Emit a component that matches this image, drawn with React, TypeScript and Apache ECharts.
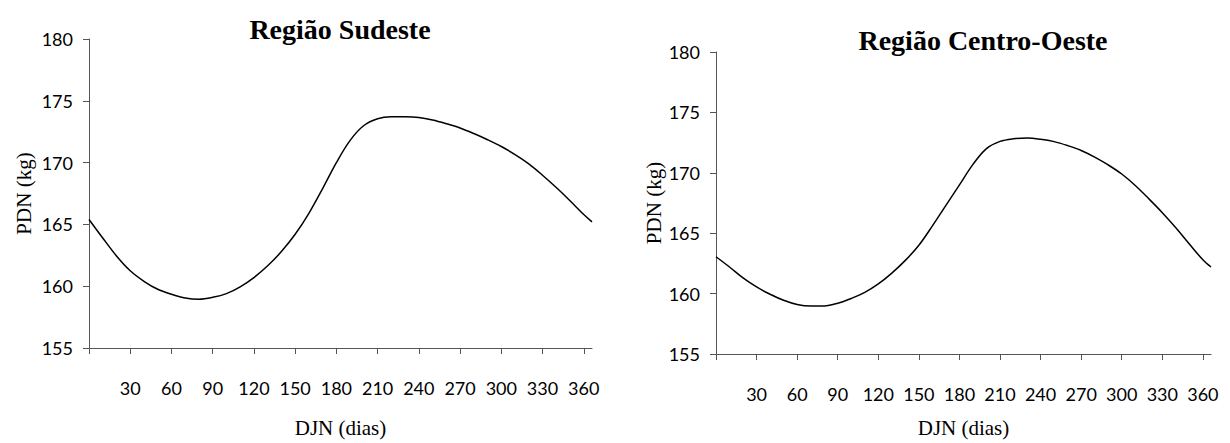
import { useEffect, useRef } from "react";
import * as echarts from "echarts";

const days = [0, 10, 20, 30, 40, 50, 60, 70, 80, 90, 100, 110, 120, 130, 140, 150, 160, 170, 180, 190, 200, 210, 220, 230, 240, 250, 260, 270, 280, 290, 300, 310, 320, 330, 340, 350, 360, 366];

const sudeste = [165.4, 163.9, 162.45, 161.25, 160.4, 159.75, 159.35, 159.05, 158.95, 159.1, 159.4, 159.95, 160.7, 161.65, 162.8, 164.2, 165.9, 167.9, 170.0, 171.8, 173.0, 173.55, 173.7, 173.7, 173.65, 173.45, 173.15, 172.8, 172.35, 171.85, 171.3, 170.65, 169.9, 168.98, 167.98, 166.92, 165.8, 165.2];

const centroOeste = [163.05, 162.2, 161.3, 160.55, 159.95, 159.45, 159.1, 158.97, 158.98, 159.2, 159.6, 160.1, 160.8, 161.7, 162.75, 164.0, 165.6, 167.3, 169.0, 170.7, 172.0, 172.6, 172.82, 172.88, 172.78, 172.58, 172.25, 171.85, 171.3, 170.65, 169.9, 168.95, 167.85, 166.7, 165.45, 164.1, 162.8, 162.2];

const titles = ["Região Sudeste", "Região Centro-Oeste"];
const xName = "DJN (dias)";
const yName = "PDN (kg)";
const xMin = 0;
const xMax = 366;
const xInterval = 30;
const yMin = 155;
const yMax = 180;
const yInterval = 5;

const serif = "'Liberation Serif', 'Times New Roman', serif";
const sans = "Lato, 'Noto Sans', sans-serif";

export default function App() {
  const ref = useRef<HTMLDivElement>(null);
  useEffect(() => {
    if (!ref.current) return;
    const chart = echarts.init(ref.current, undefined, { renderer: "svg" });
    const axisLine = { show: true, lineStyle: { color: "#555", width: 1 } };
    const xAxisBase = (gridIndex: number, gap: number) => ({
      type: "value" as const,
      gridIndex,
      min: xMin,
      max: xMax,
      interval: xInterval,
      name: xName,
      nameLocation: "middle" as const,
      nameGap: gap,
      nameTextStyle: { fontFamily: serif, fontSize: 21, color: "#000" },
      axisLine,
      axisTick: { show: true, length: 6, inside: false, lineStyle: { color: "#555" } },
      splitLine: { show: false },
      axisLabel: {
        margin: 31,
        fontFamily: sans,
        fontSize: 18,
        color: "#000",
        formatter: (v: number) => (v === 0 ? "" : String(v)),
        showMaxLabel: false,
      },
    });
    const yAxisBase = (gridIndex: number, gap: number) => ({
      type: "value" as const,
      gridIndex,
      min: yMin,
      max: yMax,
      interval: yInterval,
      name: yName,
      nameLocation: "middle" as const,
      nameGap: gap,
      nameTextStyle: { fontFamily: serif, fontSize: 21, color: "#000" },
      axisLine,
      axisTick: { show: true, length: 6, lineStyle: { color: "#555" } },
      splitLine: { show: false },
      axisLabel: { margin: 16, fontFamily: sans, fontSize: 18, color: "#000" },
    });
    chart.setOption({
      animation: false,
      backgroundColor: "#fff",
      grid: [
        { left: 89, top: 39, width: 503, height: 318 },
        { left: 716, top: 52, width: 495, height: 309 },
      ],
      xAxis: [xAxisBase(0, 69), xAxisBase(1, 63)],
      yAxis: [yAxisBase(0, 55), yAxisBase(1, 52)],
      graphic: [
        {
          type: "text",
          x: 340,
          y: 29,
          style: {
            text: titles[0],
            font: `bold 28px ${serif}`,
            fill: "#000",
            align: "center",
            verticalAlign: "middle",
          },
        },
        {
          type: "text",
          x: 983,
          y: 40,
          style: {
            text: titles[1],
            font: `bold 28px ${serif}`,
            fill: "#000",
            align: "center",
            verticalAlign: "middle",
          },
        },
      ],
      series: [
        {
          type: "line",
          xAxisIndex: 0,
          yAxisIndex: 0,
          data: days.map((d, i) => [d, sudeste[i]]),
          smooth: 0.35,
          showSymbol: false,
          lineStyle: { color: "#000", width: 1.5 },
        },
        {
          type: "line",
          xAxisIndex: 1,
          yAxisIndex: 1,
          data: days.map((d, i) => [d, centroOeste[i]]),
          smooth: 0.35,
          showSymbol: false,
          lineStyle: { color: "#000", width: 1.5 },
        },
      ],
    });
    return () => chart.dispose();
  }, []);
  return (
    <div
      ref={ref}
      style={{ position: "absolute", left: 0, top: 0, width: 1230, height: 443 }}
    />
  );
}
